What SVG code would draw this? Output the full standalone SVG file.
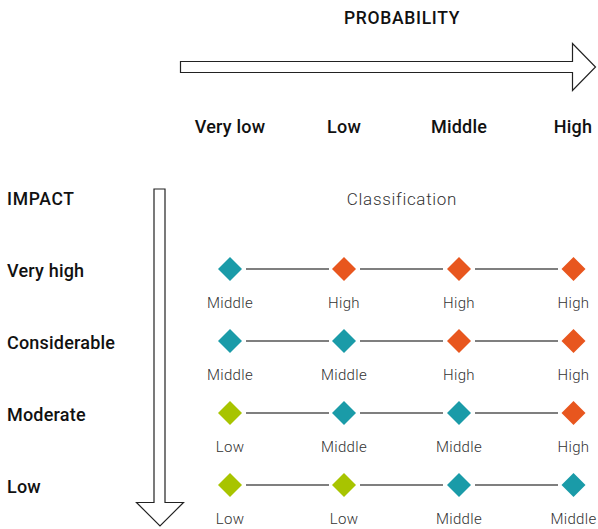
<svg xmlns="http://www.w3.org/2000/svg" width="598" height="529" viewBox="0 0 598 529">
  <style>
    .head { font-family: Roboto, "Liberation Sans", sans-serif; font-size: 18px; font-weight: 500; fill: #111; letter-spacing: 0.2px; }
    .title { font-family: Roboto, "Liberation Sans", sans-serif; font-size: 17.5px; font-weight: 500; fill: #111; letter-spacing: 0.7px; }
    .cls { font-family: Roboto, "Liberation Sans", sans-serif; font-size: 17px; font-weight: 300; fill: #333; letter-spacing: 0.7px; }
    .lbl { font-family: Roboto, "Liberation Sans", sans-serif; font-size: 15px; font-weight: 300; fill: #333; text-anchor: middle; letter-spacing: 0.3px; }
    .axis { fill: #fff; stroke: #222; stroke-width: 1.2; }
    .link { stroke: #555; stroke-width: 1.3; }
    .mid { fill: #1a9ba8; }
    .high { fill: #e8561e; }
    .low { fill: #a8c400; }
  </style>
  <defs>
    <path id="dia" d="M0,-12 L12,0 L0,12 L-12,0 Z"/>
  </defs>

  <!-- axes -->
  <g id="axis-probability">
    <path class="axis" d="M180.5,61.5 H572.5 V43.5 L595.5,67 L572.5,90.5 V72.5 H180.5 Z"/>
    <text class="title" x="402" y="24" text-anchor="middle">PROBABILITY</text>
  </g>
  <g id="axis-impact">
    <path class="axis" d="M154,189 H165 V502.5 H183.5 L160,526 L136.5,502.5 H154 Z"/>
    <text class="title" x="7" y="205">IMPACT</text>
  </g>

  <!-- column and row headings -->
  <g id="columns">
    <text class="head" x="230" y="133" text-anchor="middle">Very low</text>
    <text class="head" x="344" y="133" text-anchor="middle">Low</text>
    <text class="head" x="459" y="133" text-anchor="middle">Middle</text>
    <text class="head" x="573" y="133" text-anchor="middle">High</text>
  </g>
  <g id="rows">
    <text class="head" x="7" y="277">Very high</text>
    <text class="head" x="7" y="349">Considerable</text>
    <text class="head" x="7" y="421">Moderate</text>
    <text class="head" x="7" y="493">Low</text>
  </g>
  <text class="cls" x="402" y="205" text-anchor="middle">Classification</text>

  <!-- connectors between cells -->
  <g id="connectors">
    <line class="link" x1="246" y1="269" x2="329" y2="269"/>
    <line class="link" x1="360" y1="269" x2="443" y2="269"/>
    <line class="link" x1="475" y1="269" x2="558" y2="269"/>
    <line class="link" x1="246" y1="341" x2="329" y2="341"/>
    <line class="link" x1="360" y1="341" x2="443" y2="341"/>
    <line class="link" x1="475" y1="341" x2="558" y2="341"/>
    <line class="link" x1="246" y1="413" x2="329" y2="413"/>
    <line class="link" x1="360" y1="413" x2="443" y2="413"/>
    <line class="link" x1="475" y1="413" x2="558" y2="413"/>
    <line class="link" x1="246" y1="485" x2="329" y2="485"/>
    <line class="link" x1="360" y1="485" x2="443" y2="485"/>
    <line class="link" x1="475" y1="485" x2="558" y2="485"/>
  </g>

  <!-- row: very high -->
  <g id="vh-1"><use href="#dia" class="mid" x="230" y="269"/><text class="lbl" x="230" y="308">Middle</text></g>
  <g id="vh-2"><use href="#dia" class="high" x="344" y="269"/><text class="lbl" x="344" y="308">High</text></g>
  <g id="vh-3"><use href="#dia" class="high" x="459" y="269"/><text class="lbl" x="459" y="308">High</text></g>
  <g id="vh-4"><use href="#dia" class="high" x="573.5" y="269"/><text class="lbl" x="573.5" y="308">High</text></g>

  <!-- row: considerable -->
  <g id="c-1"><use href="#dia" class="mid" x="230" y="341"/><text class="lbl" x="230" y="380">Middle</text></g>
  <g id="c-2"><use href="#dia" class="mid" x="344" y="341"/><text class="lbl" x="344" y="380">Middle</text></g>
  <g id="c-3"><use href="#dia" class="high" x="459" y="341"/><text class="lbl" x="459" y="380">High</text></g>
  <g id="c-4"><use href="#dia" class="high" x="573.5" y="341"/><text class="lbl" x="573.5" y="380">High</text></g>

  <!-- row: moderate -->
  <g id="m-1"><use href="#dia" class="low" x="230" y="413"/><text class="lbl" x="230" y="452">Low</text></g>
  <g id="m-2"><use href="#dia" class="mid" x="344" y="413"/><text class="lbl" x="344" y="452">Middle</text></g>
  <g id="m-3"><use href="#dia" class="mid" x="459" y="413"/><text class="lbl" x="459" y="452">Middle</text></g>
  <g id="m-4"><use href="#dia" class="high" x="573.5" y="413"/><text class="lbl" x="573.5" y="452">High</text></g>

  <!-- row: low -->
  <g id="l-1"><use href="#dia" class="low" x="230" y="485"/><text class="lbl" x="230" y="524">Low</text></g>
  <g id="l-2"><use href="#dia" class="low" x="344" y="485"/><text class="lbl" x="344" y="524">Low</text></g>
  <g id="l-3"><use href="#dia" class="mid" x="459" y="485"/><text class="lbl" x="459" y="524">Middle</text></g>
  <g id="l-4"><use href="#dia" class="mid" x="573.5" y="485"/><text class="lbl" x="573.5" y="524">Middle</text></g>
</svg>
